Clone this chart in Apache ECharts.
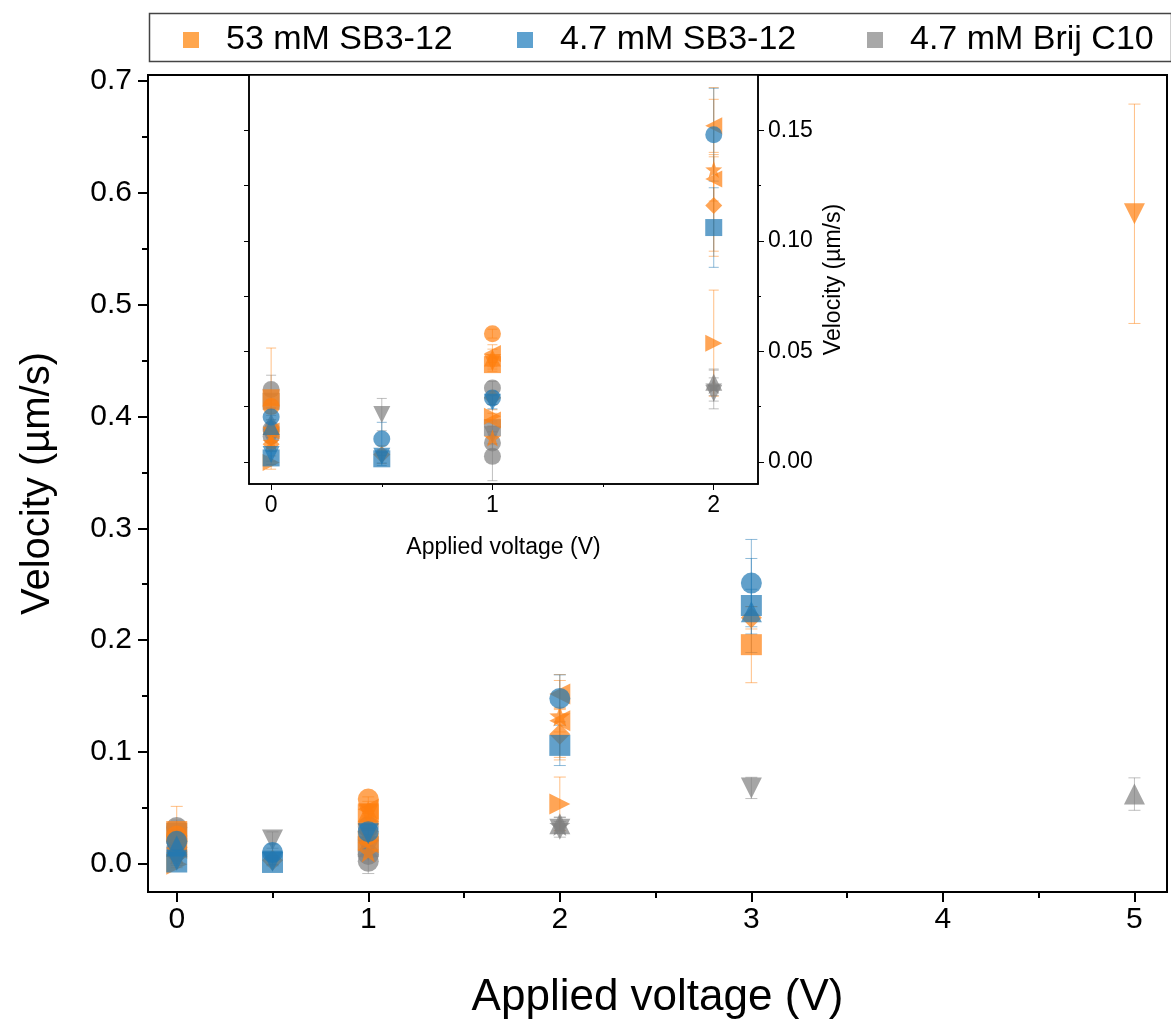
<!DOCTYPE html>
<html>
<head>
<meta charset="utf-8">
<script src="https://cdn.jsdelivr.net/npm/echarts@6/dist/echarts.min.js"></script>
<style>
  html, body { margin: 0; padding: 0; background: #fff; }
  #chart { width: 1171px; height: 1025px; }
</style>
</head>
<body>
<div id="chart"></div>
<script>
// Series names
const nameHigh = '53 mM SB3-12';
const nameLow = '4.7 mM SB3-12';
const nameBrij = '4.7 mM Brij C10';

// Tick values
const mainXMajor = [0, 1, 2, 3, 4, 5];
const mainXMinor = [0.5, 1.5, 2.5, 3.5, 4.5];
const mainYMajor = [0, 0.1, 0.2, 0.3, 0.4, 0.5, 0.6, 0.7];
const mainYMinor = [0.05, 0.15, 0.25, 0.35, 0.45, 0.55, 0.65];
const insetXMajor = [0, 1, 2];
const insetXMinor = [0.5, 1.5];
const insetYMajor = [0, 0.05, 0.1, 0.15];
const insetYMinor = [0.025, 0.075, 0.125];
const insetYLeft = [0, 0.025, 0.05, 0.075, 0.1, 0.125, 0.15];

// Data: [voltage, velocity, error]
// 53 mM SB3-12
const highSquare = [[0, 0.029, 0.0225], [1, 0.044, 0.003], [3, 0.196, 0.034]];
const highCircle = [[0, 0.025, 0.003], [1, 0.058, 0.002]];
const highUp = [[0, 0.016, 0.003], [1, 0.047, 0.004]];
const highDown = [[0, 0.012, 0.003], [1, 0.045, 0.003], [5, 0.581, 0.098]];
const highDiamond = [[0, 0.008, 0.003], [0.5, 0.0033, 0.004], [1, 0.029, 0.003], [2, 0.116, 0.023], [3, 0.220, 0.010]];
const highLeft = [[0, 0.014, 0.003], [1, 0.049, 0.004], [2, 0.152, 0.012]];
const highLeft2 = [[1, 0.019, 0.003], [2, 0.128, 0.010]];
const highRight = [[0, -0.0003, 0.003], [1, 0.0206, 0.003], [2, 0.0537, 0.024]];
const highStar = [[0, 0.009, 0.003], [1, 0.0108, 0.003], [2, 0.1323, 0.037]];
// 4.7 mM SB3-12
const lowSquare = [[0, 0.0018, 0.003], [0.5, 0.0014, 0.003], [2, 0.106, 0.018], [3, 0.231, 0.042]];
const lowCircle = [[0, 0.0203, 0.004], [0.5, 0.0104, 0.0075], [1, 0.0289, 0.003], [2, 0.148, 0.021], [3, 0.251, 0.039]];
const lowUp = [[0, 0.016, 0.003], [3, 0.2255, 0.02]];
const lowDown = [[0, 0.0033, 0.003], [0.5, 0.0025, 0.003], [1, 0.027, 0.003]];
// 4.7 mM Brij C10
const brijCircle = [[0, 0.0327, 0.0065], [1, 0.0334, 0.003]];
const brijCircle2 = [[0, 0.0149, 0.003], [1, 0.0086, 0.003]];
const brijCircle3 = [[0, 0.0116, 0.003], [1, 0.0025, 0.011]];
const brijSquare = [[0, 0.0274, 0.003], [1, 0.0155, 0.003]];
const brijDown = [[0, 0.010, 0.003], [0.5, 0.0214, 0.0073], [1, 0.0123, 0.004], [2, 0.031, 0.007], [3, 0.068, 0.0095]];
const brijStar = [[2, 0.0345, 0.007]];
const brijUp = [[0, 0.018, 0.003], [2, 0.036, 0.006], [5, 0.0625, 0.0145]];

const orange = '#FF7F0E';
const blue = '#1F77B4';
const gray = '#7F7F7F';
const font = "'Liberation Sans', Arial, sans-serif";

const starPath = 'path://M0,-10 L2.35,-3.24 L9.51,-3.09 L3.8,1.24 L5.88,8.09 L0,4 L-5.88,8.09 L-3.8,1.24 L-9.51,-3.09 L-2.35,-3.24 Z';

// marker: [symbol, rotate]
const sets = [
  { name: nameBrij, color: gray, data: brijCircle, marker: ['circle', 0] },
  { name: nameBrij, color: gray, data: brijCircle2, marker: ['circle', 0] },
  { name: nameBrij, color: gray, data: brijCircle3, marker: ['circle', 0] },
  { name: nameBrij, color: gray, data: brijSquare, marker: ['rect', 0] },
  { name: nameBrij, color: gray, data: brijDown, marker: ['triangle', 180] },
  { name: nameBrij, color: gray, data: brijStar, marker: [starPath, 0] },
  { name: nameBrij, color: gray, data: brijUp, marker: ['triangle', 0] },
  { name: nameHigh, color: orange, data: highSquare, marker: ['rect', 0] },
  { name: nameHigh, color: orange, data: highCircle, marker: ['circle', 0] },
  { name: nameHigh, color: orange, data: highUp, marker: ['triangle', 0] },
  { name: nameHigh, color: orange, data: highDown, marker: ['triangle', 180] },
  { name: nameHigh, color: orange, data: highDiamond, marker: ['diamond', 0] },
  { name: nameHigh, color: orange, data: highLeft, marker: ['triangle', 90] },
  { name: nameHigh, color: orange, data: highLeft2, marker: ['triangle', 90] },
  { name: nameHigh, color: orange, data: highRight, marker: ['triangle', -90] },
  { name: nameHigh, color: orange, data: highStar, marker: [starPath, 0] },
  { name: nameLow, color: blue, data: lowSquare, marker: ['rect', 0] },
  { name: nameLow, color: blue, data: lowCircle, marker: ['circle', 0] },
  { name: nameLow, color: blue, data: lowUp, marker: ['triangle', 0] },
  { name: nameLow, color: blue, data: lowDown, marker: ['triangle', 180] }
];

function errorBars(cap, color) {
  return function (params, api) {
    const x = api.value(0);
    const y = api.value(1);
    const e = api.value(2);
    const top = api.coord([x, y + e]);
    const bot = api.coord([x, y - e]);
    const style = { stroke: color, lineWidth: 1, opacity: 0.5 };
    return {
      type: 'group',
      children: [
        { type: 'line', shape: { x1: top[0], y1: top[1], x2: bot[0], y2: bot[1] }, style: style },
        { type: 'line', shape: { x1: top[0] - cap, y1: top[1], x2: top[0] + cap, y2: top[1] }, style: style },
        { type: 'line', shape: { x1: bot[0] - cap, y1: bot[1], x2: bot[0] + cap, y2: bot[1] }, style: style }
      ]
    };
  };
}

const series = [];
// error bars first, under the markers
sets.forEach(function (s) {
  series.push({
    type: 'custom', name: s.name + ' err', xAxisIndex: 0, yAxisIndex: 0,
    renderItem: errorBars(6, s.color), data: s.data, encode: { x: 0, y: 1 }, clip: true, silent: true
  });
  series.push({
    type: 'custom', name: s.name + ' err', xAxisIndex: 2, yAxisIndex: 2,
    renderItem: errorBars(5, s.color), data: s.data.filter(function (d) { return d[0] <= 2.2; }),
    encode: { x: 0, y: 1 }, clip: true, silent: true
  });
});
sets.forEach(function (s) {
  series.push({
    type: 'scatter', name: s.name, xAxisIndex: 0, yAxisIndex: 0,
    symbol: s.marker[0], symbolRotate: s.marker[1], symbolSize: 21,
    itemStyle: { color: s.color, opacity: 0.7 }, data: s.data
  });
  series.push({
    type: 'scatter', name: s.name, xAxisIndex: 2, yAxisIndex: 2,
    symbol: s.marker[0], symbolRotate: s.marker[1], symbolSize: 17,
    itemStyle: { color: s.color, opacity: 0.7 },
    data: s.data.filter(function (d) { return d[0] <= 2.2; })
  });
});

function legendFor(name, left, color) {
  return {
    left: left, top: 18, itemWidth: 16, itemHeight: 16, selectedMode: false,
    data: [{ name: name, icon: 'rect', itemStyle: { color: color, opacity: 1 } }],
    textStyle: { fontSize: 34, fontFamily: font, color: '#000', padding: [0, 0, 0, 22] }
  };
}

const black = { color: '#000' };

const chart = echarts.init(document.getElementById('chart'));
chart.setOption({
  animation: false,
  backgroundColor: '#fff',
  legend: [
    legendFor(nameHigh, 178, '#FFA64D'),
    legendFor(nameLow, 512, '#5EA1CF'),
    legendFor(nameBrij, 862, '#A8A8A8')
  ],
  graphic: [{
    type: 'rect', left: 147, top: 11,
    shape: { width: 1022, height: 48 },
    style: { fill: 'none', stroke: '#444', lineWidth: 1.5 }
  }],
  grid: [
    { left: 148, top: 75, right: 4, bottom: 132, show: true, borderColor: '#000', borderWidth: 2 },
    { left: 249, top: 75, width: 509, height: 409, show: true, backgroundColor: '#fff', borderColor: '#000', borderWidth: 1.5 }
  ],
  xAxis: [
    {
      type: 'value', gridIndex: 0, position: 'bottom', min: -0.15, max: 5.17,
      axisLine: { onZero: false, lineStyle: { color: '#000', width: 2 } },
      axisTick: { customValues: mainXMajor, length: 10, lineStyle: { color: '#000', width: 2 } },
      axisLabel: { customValues: mainXMajor, fontSize: 30, fontFamily: font, color: '#000', margin: 13 },
      splitLine: { show: false },
      name: 'Applied voltage (V)', nameLocation: 'middle', nameGap: 84,
      nameTextStyle: { fontSize: 44, fontFamily: font, color: '#000' }
    },
    {
      type: 'value', gridIndex: 0, position: 'bottom', min: -0.15, max: 5.17,
      axisLine: { show: false, onZero: false },
      axisTick: { customValues: mainXMinor, length: 6, lineStyle: { color: '#000', width: 2 } },
      axisLabel: { show: false }, splitLine: { show: false }
    },
    {
      type: 'value', gridIndex: 1, position: 'bottom', min: -0.1, max: 2.2,
      axisLine: { onZero: false, lineStyle: { color: '#000', width: 1.5 } },
      axisTick: { customValues: insetXMajor, length: 6, lineStyle: black },
      axisLabel: { customValues: insetXMajor, fontSize: 23, fontFamily: font, color: '#000', margin: 10 },
      splitLine: { show: false },
      name: 'Applied voltage (V)', nameLocation: 'middle', nameGap: 52,
      nameTextStyle: { fontSize: 23, fontFamily: font, color: '#000' }
    },
    {
      type: 'value', gridIndex: 1, position: 'bottom', min: -0.1, max: 2.2,
      axisLine: { show: false, onZero: false },
      axisTick: { customValues: insetXMinor, length: 3, lineStyle: black },
      axisLabel: { show: false }, splitLine: { show: false }
    }
  ],
  yAxis: [
    {
      type: 'value', gridIndex: 0, position: 'left', min: -0.025, max: 0.705,
      axisLine: { show: true, onZero: false, lineStyle: { color: '#000', width: 2 } },
      axisTick: { show: true, customValues: mainYMajor, length: 10, lineStyle: { color: '#000', width: 2 } },
      axisLabel: {
        customValues: mainYMajor, fontSize: 30, fontFamily: font, color: '#000', margin: 16,
        formatter: function (v) { return v.toFixed(1); }
      },
      splitLine: { show: false },
      name: 'Velocity (µm/s)', nameLocation: 'middle', nameGap: 90,
      nameTextStyle: { fontSize: 40, fontFamily: font, color: '#000' }
    },
    {
      type: 'value', gridIndex: 0, position: 'left', min: -0.025, max: 0.705,
      axisLine: { show: false, onZero: false },
      axisTick: { show: true, customValues: mainYMinor, length: 6, lineStyle: { color: '#000', width: 2 } },
      axisLabel: { show: false }, splitLine: { show: false }
    },
    {
      type: 'value', gridIndex: 1, position: 'right', min: -0.01, max: 0.175,
      axisLine: { show: true, onZero: false, lineStyle: { color: '#000', width: 1.5 } },
      axisTick: { show: true, customValues: insetYMajor, length: 6, lineStyle: black },
      axisLabel: {
        customValues: insetYMajor, fontSize: 23, fontFamily: font, color: '#000', margin: 10,
        formatter: function (v) { return v.toFixed(2); }
      },
      splitLine: { show: false },
      name: 'Velocity (µm/s)', nameLocation: 'middle', nameGap: 64, nameRotate: 90,
      nameTextStyle: { fontSize: 23, fontFamily: font, color: '#000' }
    },
    {
      type: 'value', gridIndex: 1, position: 'right', min: -0.01, max: 0.175,
      axisLine: { show: false, onZero: false },
      axisTick: { show: true, customValues: insetYMinor, length: 3, lineStyle: black },
      axisLabel: { show: false }, splitLine: { show: false }
    },
    {
      type: 'value', gridIndex: 1, position: 'left', min: -0.01, max: 0.175,
      axisLine: { show: true, onZero: false, lineStyle: { color: '#000', width: 1.5 } },
      axisTick: { show: true, customValues: insetYLeft, length: 5, lineStyle: black },
      axisLabel: { show: false }, splitLine: { show: false }
    }
  ],
  series: series
});
</script>
</body>
</html>
